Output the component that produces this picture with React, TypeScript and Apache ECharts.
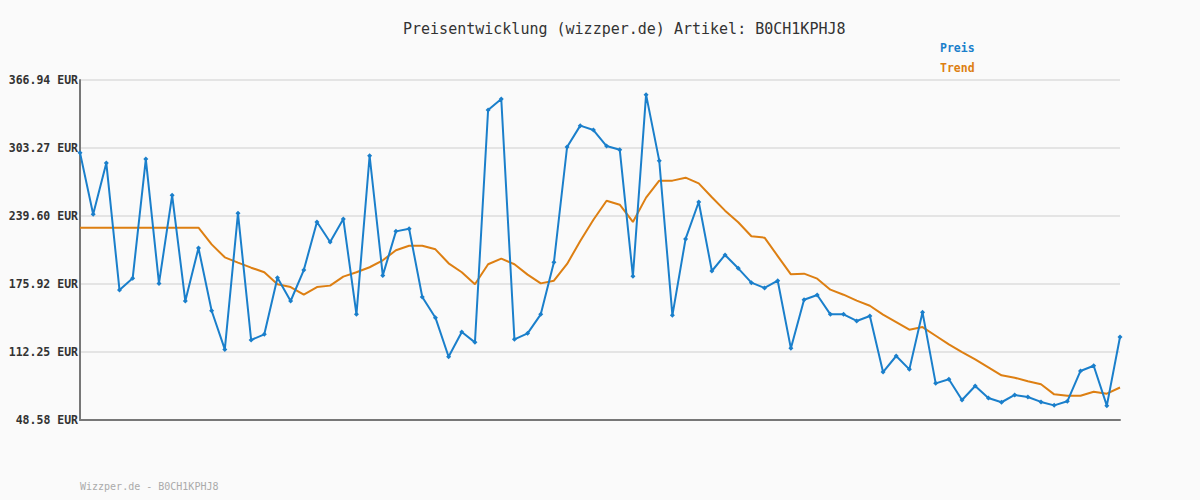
import React, { useEffect, useRef } from "react";
import * as echarts from "echarts";

const titleText = "Preisentwicklung (wizzper.de) Artikel: B0CH1KPHJ8";
const footerText = "Wizzper.de - B0CH1KPHJ8";
const seriesNames = ["Preis", "Trend"];
const yTicks = [48.58, 112.25, 175.92, 239.6, 303.27, 366.94];

const preis = [
  298.9, 241.2, 289.2, 170.3, 181.2, 292.9, 176.5, 259.0, 160.0, 209.6,
  150.9, 114.7, 242.1, 123.5, 128.8, 181.8, 160.0, 189.0, 234.0, 215.2,
  236.8, 147.5, 296.0, 184.0, 225.2, 227.7, 163.7, 144.4, 107.8, 130.9,
  121.3, 338.9, 349.2, 124.1, 129.7, 147.5, 196.3, 304.2, 324.2, 320.1,
  305.1, 301.7, 183.1, 353.2, 291.4, 146.6, 218.1, 252.7, 188.1, 203.1,
  190.6, 177.2, 172.2, 179.0, 115.7, 161.2, 165.6, 147.5, 147.5, 141.3,
  146.0, 93.5, 108.5, 96.0, 149.4, 82.9, 86.7, 67.3, 80.4, 69.2,
  65.2, 72.0, 70.1, 65.5, 62.3, 66.1, 94.5, 99.4, 62.0, 126.3,
];

const trend = [
  228.6, 228.6, 228.6, 228.6, 228.6, 228.6, 228.6, 228.6, 228.6, 228.6,
  213.0, 200.9, 195.9, 191.2, 186.9, 175.7, 173.1, 165.9, 173.1, 174.4,
  182.8, 186.9, 191.6, 198.1, 207.5, 211.8, 211.8, 208.4, 195.3, 186.9,
  175.7, 194.4, 199.7, 194.4, 184.7, 176.5, 179.0, 194.7, 216.2, 236.1,
  253.9, 250.2, 234.0, 256.8, 272.7, 272.7, 275.5, 270.2, 257.1, 244.6,
  233.7, 220.6, 219.3, 202.1, 185.0, 185.6, 180.9, 170.6, 165.9, 160.3,
  155.6, 147.2, 140.3, 133.1, 135.6, 127.5, 119.4, 112.2, 105.4, 97.9,
  90.4, 88.2, 84.8, 82.0, 72.6, 71.3, 71.3, 75.1, 73.2, 79.0,
];

const categories = preis.map((_, i) => String(i + 1));

const MONO = "'DejaVu Sans Mono', 'Liberation Mono', monospace";

export default function App() {
  const ref = useRef<HTMLDivElement>(null);
  useEffect(() => {
    if (!ref.current) return;
    const chart = echarts.init(ref.current, undefined, { renderer: "svg" });
    chart.setOption({
      animation: false,
      backgroundColor: "#fafafa",
      title: {
        text: titleText,
        left: 398,
        top: 16,
        textStyle: { fontFamily: MONO, fontSize: 15, fontWeight: "normal", color: "#333" },
      },
      legend: {
        orient: "vertical",
        left: 930,
        top: 37,
        icon: "none",
        itemWidth: 0,
        itemHeight: 12,
        itemGap: 8,
        selectedMode: false,
        data: [
          { name: seriesNames[0], textStyle: { color: "#1a7fcb" } },
          { name: seriesNames[1], textStyle: { color: "#dd7f12" } },
        ],
        textStyle: { fontFamily: MONO, fontSize: 11.5, fontWeight: "bold", padding: 0 },
      },
      grid: { left: 80, right: 80, top: 80, bottom: 80, containLabel: false },
      xAxis: {
        type: "category",
        data: categories,
        boundaryGap: false,
        axisLine: { show: true, lineStyle: { color: "#777", width: 2 } },
        axisTick: { show: false },
        axisLabel: { show: false },
        splitLine: { show: false },
      },
      yAxis: {
        type: "value",
        min: yTicks[0],
        max: yTicks[yTicks.length - 1],
        axisLine: { show: true, lineStyle: { color: "#777", width: 2 } },
        axisTick: { show: false, customValues: yTicks },
        axisLabel: {
          customValues: yTicks,
          formatter: (v: number) => v.toFixed(2) + " EUR",
          fontFamily: MONO,
          fontSize: 11.5,
          fontWeight: "bold",
          color: "#333",
          margin: 2,
        },
        splitLine: { show: true, lineStyle: { color: "#e4e4e4", width: 2 } },
      },
      graphic: [
        {
          type: "text",
          left: 80,
          top: 481,
          style: { text: footerText, font: `10px ${MONO}`, fill: "#aaaaaa" },
        },
      ],
      series: [
        {
          name: seriesNames[0],
          type: "line",
          data: preis,
          symbol: "diamond",
          symbolSize: 5,
          showSymbol: true,
          lineStyle: { color: "#1a7fcb", width: 2 },
          itemStyle: { color: "#1a7fcb" },
          z: 3,
        },
        {
          name: seriesNames[1],
          type: "line",
          data: trend,
          symbol: "none",
          lineStyle: { color: "#dd7f12", width: 2 },
          itemStyle: { color: "#dd7f12" },
          z: 2,
        },
      ],
    });
    return () => chart.dispose();
  }, []);
  return (
    <div
      ref={ref}
      style={{ position: "absolute", left: 0, top: 0, width: 1200, height: 500 }}
    />
  );
}
